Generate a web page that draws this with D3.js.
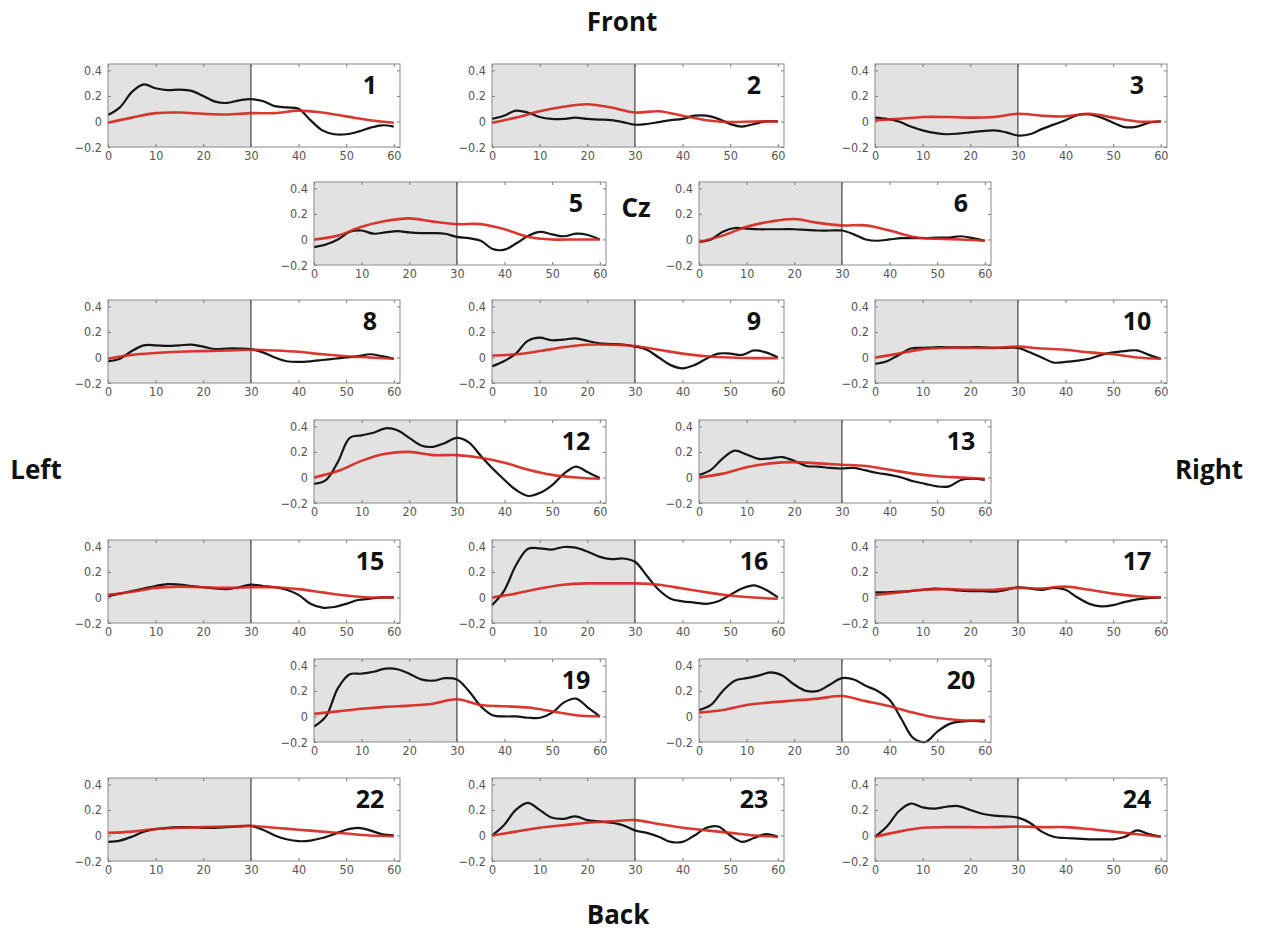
<!DOCTYPE html>
<html>
<head>
<meta charset="utf-8">
<script src="https://cdn.jsdelivr.net/npm/d3@7"></script>
<style>
body { margin: 0; background: #fff; }
.tick text { font-family: "DejaVu Sans Condensed", "DejaVu Sans", sans-serif; font-size: 12.5px; fill: #555; }
.tick line { stroke: #777; }
.label { font-family: "Open Sans", sans-serif; font-weight: 700; fill: #111; }
</style>
</head>
<body>
<div id="chart"></div>
<script>
// tick labels and time bases (seconds)
var xTicks = [0, 10, 20, 30, 40, 50, 60];
var yTicks = [-0.2, 0, 0.2, 0.4];
var stimulusEnd = 30;
var timesBlack = [0, 2.5, 5, 7.5, 10, 12.5, 15, 17.5, 20, 22.5, 25, 27.5, 30, 32.5, 35, 37.5, 40, 42.5, 45, 47.5, 50, 52.5, 55, 57.5, 60];
var timesRed = [0, 5, 10, 15, 20, 25, 30, 35, 40, 45, 50, 55, 60];

// channel numbers, in drawing order
var channels = [1, 2, 3, 5, 6, 8, 9, 10, 12, 13, 15, 16, 17, 19, 20, 22, 23, 24];

// black curve values per channel (timesBlack)
var black1 = [0.05, 0.11, 0.23, 0.29, 0.26, 0.245, 0.25, 0.24, 0.20, 0.155, 0.145, 0.165, 0.175, 0.16, 0.12, 0.11, 0.10, 0.01, -0.07, -0.1, -0.1, -0.08, -0.05, -0.03, -0.04];
var black2 = [0.02, 0.045, 0.085, 0.07, 0.035, 0.02, 0.02, 0.03, 0.02, 0.015, 0.01, -0.005, -0.025, -0.02, -0.005, 0.01, 0.02, 0.045, 0.045, 0.02, -0.02, -0.04, -0.02, 0, 0];
var black3 = [0.03, 0.02, 0, -0.04, -0.07, -0.09, -0.1, -0.095, -0.085, -0.075, -0.07, -0.085, -0.11, -0.1, -0.06, -0.025, 0.01, 0.05, 0.055, 0.03, -0.01, -0.045, -0.04, -0.01, 0];
var black5 = [-0.06, -0.04, 0, 0.06, 0.07, 0.045, 0.055, 0.065, 0.055, 0.05, 0.05, 0.045, 0.02, 0.01, -0.01, -0.075, -0.08, -0.03, 0.03, 0.06, 0.04, 0.025, 0.045, 0.035, 0];
var black6 = [-0.02, 0, 0.06, 0.09, 0.085, 0.08, 0.08, 0.08, 0.08, 0.075, 0.07, 0.07, 0.07, 0.04, 0, -0.01, 0, 0.01, 0.01, 0.01, 0.015, 0.015, 0.025, 0.01, -0.01];
var black8 = [-0.03, -0.01, 0.05, 0.095, 0.095, 0.09, 0.095, 0.1, 0.085, 0.065, 0.07, 0.07, 0.065, 0.04, 0, -0.03, -0.035, -0.03, -0.02, -0.01, 0, 0.01, 0.025, 0.01, -0.01];
var black9 = [-0.07, -0.03, 0.03, 0.13, 0.155, 0.135, 0.14, 0.15, 0.13, 0.11, 0.105, 0.1, 0.085, 0.06, 0, -0.06, -0.085, -0.06, -0.01, 0.03, 0.03, 0.02, 0.055, 0.04, 0];
var black10 = [-0.05, -0.03, 0.02, 0.07, 0.075, 0.08, 0.08, 0.08, 0.08, 0.08, 0.075, 0.075, 0.075, 0.04, 0, -0.04, -0.035, -0.025, -0.01, 0.02, 0.04, 0.05, 0.055, 0.02, -0.01];
var black12 = [-0.05, -0.02, 0.12, 0.31, 0.33, 0.35, 0.385, 0.37, 0.31, 0.25, 0.24, 0.27, 0.31, 0.275, 0.17, 0.07, -0.02, -0.1, -0.145, -0.12, -0.06, 0.03, 0.085, 0.04, -0.005];
var black13 = [0.02, 0.06, 0.15, 0.21, 0.18, 0.145, 0.15, 0.16, 0.13, 0.09, 0.085, 0.075, 0.07, 0.075, 0.055, 0.035, 0.02, 0, -0.03, -0.05, -0.07, -0.07, -0.02, -0.01, -0.02];
var black15 = [0.01, 0.03, 0.05, 0.07, 0.09, 0.105, 0.1, 0.09, 0.08, 0.07, 0.065, 0.08, 0.1, 0.09, 0.08, 0.06, 0.02, -0.05, -0.08, -0.075, -0.05, -0.02, -0.01, 0, 0];
var black16 = [-0.06, 0.05, 0.25, 0.38, 0.385, 0.375, 0.395, 0.39, 0.36, 0.32, 0.3, 0.305, 0.28, 0.17, 0.06, -0.01, -0.03, -0.04, -0.05, -0.03, 0.02, 0.07, 0.095, 0.06, 0];
var black17 = [0.04, 0.04, 0.045, 0.05, 0.06, 0.07, 0.065, 0.055, 0.05, 0.05, 0.045, 0.06, 0.08, 0.07, 0.06, 0.075, 0.06, 0, -0.05, -0.07, -0.06, -0.035, -0.015, -0.005, 0];
var black19 = [-0.08, 0, 0.22, 0.33, 0.335, 0.35, 0.375, 0.37, 0.335, 0.29, 0.28, 0.3, 0.29, 0.2, 0.08, 0.01, 0, 0, -0.01, -0.01, 0.03, 0.11, 0.14, 0.07, 0];
var black20 = [0.05, 0.09, 0.2, 0.28, 0.3, 0.32, 0.345, 0.32, 0.25, 0.2, 0.2, 0.25, 0.3, 0.29, 0.24, 0.2, 0.13, -0.02, -0.17, -0.2, -0.12, -0.06, -0.04, -0.035, -0.04];
var black22 = [-0.05, -0.04, -0.01, 0.03, 0.05, 0.06, 0.065, 0.065, 0.06, 0.06, 0.065, 0.07, 0.075, 0.045, 0, -0.03, -0.045, -0.04, -0.02, 0.01, 0.045, 0.06, 0.04, 0.01, 0];
var black23 = [0, 0.08, 0.2, 0.255, 0.2, 0.14, 0.13, 0.15, 0.12, 0.11, 0.1, 0.08, 0.04, 0.02, -0.01, -0.05, -0.05, 0, 0.06, 0.07, 0, -0.05, -0.02, 0.01, -0.01];
var black24 = [-0.01, 0.07, 0.19, 0.25, 0.22, 0.21, 0.225, 0.23, 0.2, 0.17, 0.155, 0.15, 0.14, 0.1, 0.03, -0.01, -0.02, -0.025, -0.03, -0.03, -0.03, -0.01, 0.04, 0.01, -0.01];

// red curve values per channel (timesRed)
var red1 = [-0.01, 0.03, 0.065, 0.07, 0.06, 0.055, 0.065, 0.065, 0.085, 0.07, 0.04, 0.01, -0.01];
var red2 = [-0.01, 0.03, 0.08, 0.115, 0.135, 0.11, 0.07, 0.08, 0.045, 0.01, -0.005, 0, 0];
var red3 = [0.01, 0.02, 0.035, 0.035, 0.03, 0.035, 0.06, 0.045, 0.04, 0.06, 0.03, 0, 0];
var red5 = [0, 0.03, 0.1, 0.145, 0.165, 0.14, 0.12, 0.12, 0.08, 0.02, 0, 0, 0];
var red6 = [-0.02, 0.03, 0.1, 0.14, 0.16, 0.13, 0.11, 0.11, 0.07, 0.02, 0.005, 0, -0.01];
var red8 = [-0.01, 0.02, 0.035, 0.045, 0.05, 0.055, 0.06, 0.055, 0.045, 0.025, 0.01, 0, -0.01];
var red9 = [0.015, 0.025, 0.05, 0.08, 0.1, 0.1, 0.09, 0.06, 0.03, 0.01, 0, -0.005, -0.005];
var red10 = [0, 0.03, 0.065, 0.075, 0.075, 0.075, 0.085, 0.07, 0.06, 0.04, 0.025, 0, -0.01];
var red12 = [0, 0.05, 0.13, 0.185, 0.2, 0.175, 0.175, 0.155, 0.115, 0.06, 0.02, 0, -0.01];
var red13 = [0, 0.03, 0.08, 0.11, 0.12, 0.11, 0.1, 0.09, 0.06, 0.03, 0.01, 0, -0.01];
var red15 = [0.02, 0.045, 0.075, 0.085, 0.08, 0.075, 0.08, 0.08, 0.065, 0.04, 0.015, 0, 0];
var red16 = [0, 0.03, 0.07, 0.1, 0.11, 0.11, 0.11, 0.1, 0.07, 0.04, 0.015, 0, -0.01];
var red17 = [0.02, 0.04, 0.06, 0.065, 0.06, 0.06, 0.075, 0.07, 0.085, 0.06, 0.03, 0.01, 0];
var red19 = [0.02, 0.04, 0.06, 0.075, 0.085, 0.1, 0.135, 0.09, 0.08, 0.07, 0.04, 0.01, 0];
var red20 = [0.03, 0.05, 0.09, 0.11, 0.125, 0.14, 0.16, 0.12, 0.08, 0.03, -0.01, -0.03, -0.03];
var red22 = [0.02, 0.03, 0.05, 0.06, 0.065, 0.07, 0.075, 0.06, 0.045, 0.03, 0.015, 0, -0.005];
var red23 = [0, 0.03, 0.06, 0.08, 0.1, 0.11, 0.12, 0.09, 0.06, 0.04, 0.02, 0, -0.01];
var red24 = [-0.01, 0.03, 0.06, 0.065, 0.065, 0.065, 0.07, 0.065, 0.065, 0.05, 0.03, 0.01, -0.01];

var blackSeries = [black1, black2, black3, black5, black6, black8, black9, black10, black12, black13, black15, black16, black17, black19, black20, black22, black23, black24];
var redSeries = [red1, red2, red3, red5, red6, red8, red9, red10, red12, red13, red15, red16, red17, red19, red20, red22, red23, red24];

// page layout: top-left corner of each panel box
var colA = 108, colB = 492, colC = 875, colD = 314, colE = 699;
var panelPos = [
    [colA, 64], [colB, 64], [colC, 64],
    [colD, 182], [colE, 182],
    [colA, 300], [colB, 300], [colC, 300],
    [colD, 420], [colE, 420],
    [colA, 540], [colB, 540], [colC, 540],
    [colD, 659], [colE, 659],
    [colA, 778], [colB, 778], [colC, 778]
];

var attrs = {
    width: 1264,
    height: 935,
    panelWidth: 292,
    panelHeight: 83,
    shade: "#e2e2e2",
    black: "#151515",
    red: "#d4231b"
};

var svg = d3.select("#chart").append("svg")
    .attr("width", attrs.width)
    .attr("height", attrs.height);

var x = d3.scaleLinear().domain([0, 61.3]).range([0, attrs.panelWidth]);
var y = d3.scaleLinear().domain([-0.2, 0.45]).range([attrs.panelHeight, 0]);

var line = d3.line()
    .x(function(d) { return x(d[0]); })
    .y(function(d) { return y(d[1]); })
    .curve(d3.curveCatmullRom.alpha(0.5));

var panels = channels.map(function(id, i) {
    return {
        id: id,
        pos: panelPos[i],
        black: timesBlack.map(function(t, j) { return [t, blackSeries[i][j]]; }),
        red: timesRed.map(function(t, j) { return [t, redSeries[i][j]]; })
    };
});

var g = svg.selectAll(".panel").data(panels).enter()
    .append("g")
    .attr("class", "panel")
    .attr("transform", function(d) { return "translate(" + d.pos[0] + "," + d.pos[1] + ")"; });

g.append("rect")
    .attr("width", attrs.panelWidth)
    .attr("height", attrs.panelHeight)
    .attr("fill", "#fff");

// stimulus period shading
g.append("rect")
    .attr("x", x(0))
    .attr("width", x(stimulusEnd) - x(0))
    .attr("height", attrs.panelHeight)
    .attr("fill", attrs.shade);

g.append("line")
    .attr("x1", x(stimulusEnd)).attr("x2", x(stimulusEnd))
    .attr("y1", 0).attr("y2", attrs.panelHeight)
    .attr("stroke", "#444")
    .attr("stroke-width", 1.2);

// MATLAB style axes, ticks pointing inward
g.append("g")
    .attr("transform", "translate(0," + attrs.panelHeight + ")")
    .call(d3.axisBottom(x).tickValues(xTicks).tickSizeInner(-3).tickSizeOuter(0).tickPadding(4))
    .call(function(a) { a.select(".domain").remove(); });
g.append("g")
    .call(d3.axisTop(x).tickValues(xTicks).tickSizeInner(-3).tickSizeOuter(0).tickFormat(""))
    .call(function(a) { a.select(".domain").remove(); });
g.append("g")
    .call(d3.axisLeft(y).tickValues(yTicks).tickSizeInner(-3).tickSizeOuter(0).tickPadding(6).tickFormat(d3.format("")))
    .call(function(a) { a.select(".domain").remove(); });
g.append("g")
    .attr("transform", "translate(" + attrs.panelWidth + ",0)")
    .call(d3.axisRight(y).tickValues(yTicks).tickSizeInner(-3).tickSizeOuter(0).tickFormat(""))
    .call(function(a) { a.select(".domain").remove(); });

g.append("path")
    .attr("d", function(d) { return line(d.black); })
    .attr("fill", "none")
    .attr("stroke", attrs.black)
    .attr("stroke-width", 2.2);

g.append("path")
    .attr("d", function(d) { return line(d.red); })
    .attr("fill", "none")
    .attr("stroke", attrs.red)
    .attr("stroke-width", 2.6)
    .attr("stroke-opacity", 0.9);

g.append("rect")
    .attr("width", attrs.panelWidth)
    .attr("height", attrs.panelHeight)
    .attr("fill", "none")
    .attr("stroke", "#8a8a8a")
    .attr("stroke-width", 1);

g.append("text")
    .attr("class", "label")
    .attr("x", attrs.panelWidth - 30)
    .attr("y", 30)
    .attr("text-anchor", "middle")
    .attr("font-size", 25)
    .text(function(d) { return d.id; });

// orientation labels
var orient = [
    {t: "Front", x: 622, y: 31},
    {t: "Back", x: 618, y: 924},
    {t: "Left", x: 36, y: 479},
    {t: "Right", x: 1209, y: 479},
    {t: "Cz", x: 636, y: 217}
];
svg.selectAll(".orient").data(orient).enter()
    .append("text")
    .attr("class", "label orient")
    .attr("x", function(d) { return d.x; })
    .attr("y", function(d) { return d.y; })
    .attr("text-anchor", "middle")
    .attr("font-size", 26)
    .text(function(d) { return d.t; });
</script>
</body>
</html>
